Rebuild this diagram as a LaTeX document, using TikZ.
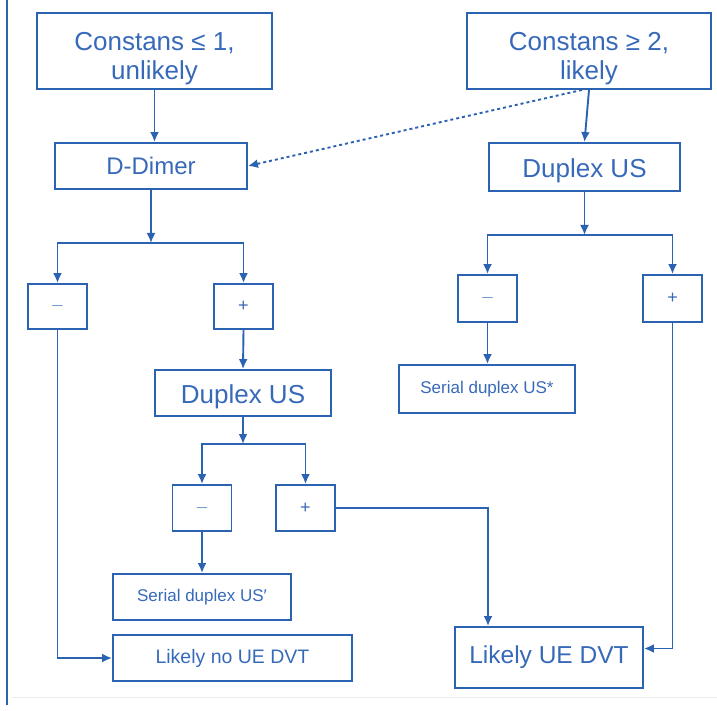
\documentclass[tikz,border=0pt]{standalone}
\usepackage{fontspec}
\setmainfont{Liberation Sans}
\usetikzlibrary{arrows.meta}
\definecolor{flowblue}{RGB}{44,98,178}
\definecolor{textblue}{RGB}{55,105,185}
\tikzset{>={Latex[length=10pt,width=9pt]}}

\begin{document}
\begin{tikzpicture}[x=1pt, y=-1pt]

	\tikzstyle{box_any} = [rectangle, draw=flowblue, line width=1.9pt, inner sep=0pt, text=textblue, align=center]
	\tikzstyle{box_big} = [box_any, font=\fontsize{26}{29}\selectfont]
	\tikzstyle{box_small} = [box_any, font=\fontsize{17}{20}\selectfont]
	\tikzstyle{box_sign} = [box_any, minimum width=59pt, font=\fontsize{18}{20}\selectfont]
	\tikzstyle{link} = [draw=flowblue, line width=1.9pt]

	\useasboundingbox (0,0) rectangle (717,711);
	\draw[flowblue, line width=2.5pt] (7,0) -- (7,705);
	\draw[black!8, line width=1pt] (12,697) -- (717,697);

%------------------------------------------------------------
	\node[box_big, minimum width=235pt, minimum height=76pt] (c1) at (154.5,51) {\rule{0pt}{34pt}Constans ≤ 1,\\unlikely};
	\node[box_big, minimum width=244pt, minimum height=76pt] (c2) at (589,51) {\rule{0pt}{34pt}Constans ≥ 2,\\likely};

%------------------------------------------------------------
	\node[box_big, minimum width=192pt, minimum height=46pt, font=\fontsize{24}{28}\selectfont] (dd) at (151,166) {D-Dimer};
	\node[box_big, minimum width=191pt, minimum height=48pt] (dus_r) at (584.5,167) {\rule{0pt}{26pt}Duplex US};

%------------------------------------------------------------
	\node[box_sign, minimum height=45pt] (m1) at (57.5,306.5) {$-$};
	\node[box_sign, minimum height=45pt] (p1) at (243.5,306.5) {+};
	\node[box_sign, minimum height=47pt] (m_r) at (487.5,298.5) {$-$};
	\node[box_sign, minimum height=47pt] (p_r) at (672.5,298.5) {+};

%------------------------------------------------------------
	\node[box_big, minimum width=176pt, minimum height=46pt] (dus_m) at (243,393) {\rule{0pt}{26pt}Duplex US};
	\node[box_small, minimum width=176pt, minimum height=48pt] (ser_r) at (487,389) {Serial duplex US*};

%------------------------------------------------------------
	\node[box_sign, minimum height=46pt] (m2) at (202,508) {$-$};
	\node[box_sign, minimum height=46pt] (p2) at (305.5,508) {+};

%------------------------------------------------------------
	\node[box_small, minimum width=178pt, minimum height=46pt] (ser_m) at (202,597) {Serial duplex US′};
	\node[box_any, minimum width=239pt, minimum height=46pt, font=\fontsize{19.5}{22}\selectfont] (lno) at (232.5,658) {Likely no UE DVT};
	\node[box_big, minimum width=188pt, minimum height=61pt, font=\fontsize{24.5}{28}\selectfont] (lue) at (549,657.5) {Likely UE DVT};

%------------------------------------------------------------
	\coordinate (j1) at (151,243);
	\coordinate (j2) at (243,444);
	\coordinate (j3) at (584.5,235);

	\draw[link, ->] (c1.south) -- (c1.south |- dd.north);
	\draw[link, ->, dashed] ([xshift=-7pt]c2.south) -- (dd.east);
	\draw[link, ->] (c2.south) -- (dus_r.north);

	\draw[link, ->] (dd.south) -- (j1);
	\draw[link, ->] (j1) -| (m1.north);
	\draw[link, ->] (j1) -| (p1.north);
	\draw[link, ->] (p1.south) -- (dus_m.north);

	\draw[link, ->] (dus_r.south) -- (j3);
	\draw[link, ->] (j3) -| (m_r.north);
	\draw[link, ->] (j3) -| (p_r.north);
	\draw[link, ->] (m_r.south) -- (m_r.south |- ser_r.north);

	\draw[link, ->] (dus_m.south) -- (j2);
	\draw[link, ->] (j2) -| (m2.north);
	\draw[link, ->] (j2) -| (p2.north);
	\draw[link, ->] (m2.south) -- (ser_m.north);

	\draw[link, ->] (m1.south) |- (lno.west);
	\draw[link, ->] (p2.east) -| ([xshift=-61pt]lue.north);
	\draw[link, ->] (p_r.south) |- ([yshift=9pt]lue.east);

\end{tikzpicture}
\end{document}
